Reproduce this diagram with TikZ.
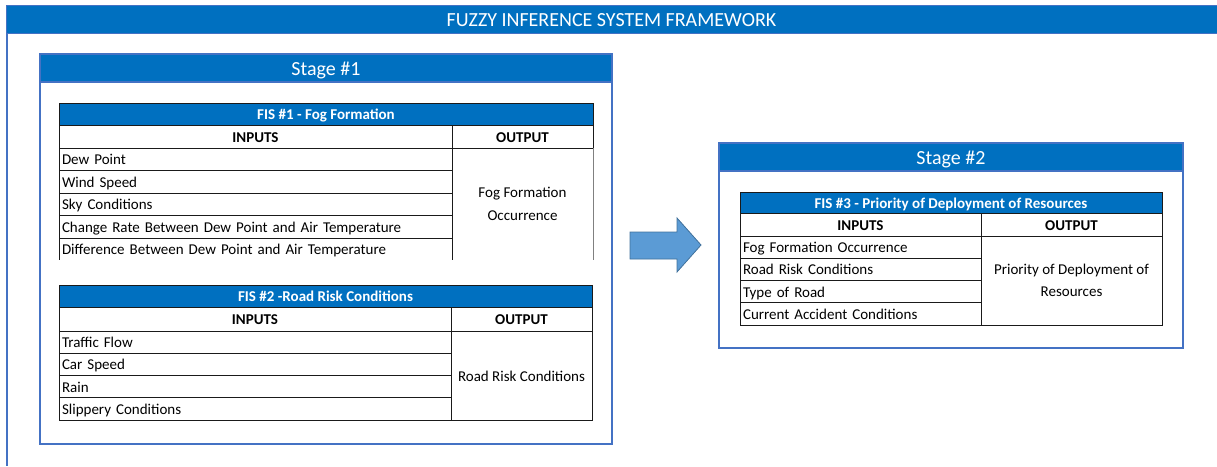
\documentclass[tikz,border=0pt]{standalone}
\usepackage{fontspec}
\setmainfont{Carlito}
\definecolor{hdrblue}{HTML}{0070C0}
\definecolor{frameblue}{HTML}{4472C4}
\definecolor{arrowfill}{HTML}{5B9BD5}
\definecolor{arrowline}{HTML}{41719C}
\definecolor{linec}{HTML}{1A1A1A}
\newcommand{\fsrow}{\fontsize{15}{18.5}\selectfont}
\newcommand{\fsbig}{\fontsize{20}{24}\selectfont}
\begin{document}
\begin{tikzpicture}[x=1pt,y=-1pt,
  box/.style={anchor=north west,inner sep=0pt,outer sep=0pt},
  banner/.style={box,fill=hdrblue,draw=frameblue,line width=1pt,text=white,font=\fsbig,text height=14.5pt,text depth=0.5pt},
  stagebox/.style={box,draw=frameblue,line width=1.5pt,fill=white},
  stagehdr/.style={box,fill=hdrblue,draw=frameblue,line width=1.5pt,text=white,font=\fsbig,text height=14.5pt,text depth=0.5pt},
  fistitle/.style={box,fill=hdrblue,draw=linec,line width=0.9pt,text=white,font=\fsrow\bfseries,text height=11.5pt,text depth=0.5pt},
  colhdr/.style={box,draw=linec,line width=0.9pt,font=\fsrow\bfseries,text height=11.5pt,text depth=0.5pt},
  rowcell/.style={box,draw=linec,line width=0.9pt,font=\fsrow,inner xsep=3pt,align=left,text height=11.5pt,text depth=0.5pt},
  opencell/.style={box,font=\fsrow,inner xsep=3pt,align=left,text height=11.5pt,text depth=0.5pt},
  outcell/.style={box,draw=linec,line width=0.9pt,font=\fsrow,align=center},
  edge/.style={draw=linec,line width=0.9pt},
  bigarrow/.style={fill=arrowfill,draw=arrowline,line width=0.8pt,line join=miter},
  frameline/.style={draw=frameblue,line width=1.2pt}
]
\useasboundingbox (0,0) rectangle (1217,466);

% outer frame
\node[banner,minimum width=1211pt,minimum height=28pt] (top) at (6,5) {FUZZY INFERENCE SYSTEM FRAMEWORK};
\coordinate (framebot) at (7,466);
\draw[frameline] (top.south west) ++(1,0) -- (framebot);

% ---------- Stage 1 ----------
\node[stagebox,minimum width=572pt,minimum height=390pt] (s1) at (40,54) {};
\node[stagehdr,minimum width=572pt,minimum height=28pt] (s1h) at (40,54) {Stage \#1};

% FIS 1
\node[fistitle,minimum width=534pt,minimum height=22pt] (f1t) at (59,103) {FIS \#1 - Fog Formation};
\node[colhdr,minimum width=393pt,minimum height=23pt] (f1in) at (59,125) {INPUTS};
\node[colhdr,minimum width=141pt,minimum height=23pt] (f1out) at (452,125) {OUTPUT};
\node[rowcell,text width=387pt,minimum height=22.5pt] (f1r1) at (59,148) {Dew Point};
\node[rowcell,text width=387pt,minimum height=22.5pt] (f1r2) at (59,170.5) {Wind Speed};
\node[rowcell,text width=387pt,minimum height=22.5pt] (f1r3) at (59,193) {Sky Conditions};
\node[rowcell,text width=387pt,minimum height=22.5pt] (f1r4) at (59,215.5) {Change Rate Between Dew Point and Air Temperature};
\node[opencell,text width=387pt,minimum height=22pt] (f1r5) at (59,238) {Difference Between Dew Point and Air Temperature};
\node[box,font=\fsrow,align=center,minimum width=141pt,minimum height=112pt] (f1o) at (452,148) {Fog Formation\\[4pt]Occurrence};
\draw[edge] (f1r5.north west) -- (f1r5.south west);
\draw[edge] (f1o.north west) -- (f1o.south west);
\draw[edge,draw=gray] (f1o.north east) -- (f1o.south east);

% FIS 2
\node[fistitle,minimum width=533pt,minimum height=22pt] (f2t) at (59,285) {FIS \#2 -Road Risk Conditions};
\node[colhdr,minimum width=392pt,minimum height=24pt] (f2in) at (59,307) {INPUTS};
\node[colhdr,minimum width=141pt,minimum height=24pt] (f2out) at (451,307) {OUTPUT};
\node[rowcell,text width=386pt,minimum height=22.25pt] (f2r1) at (59,331) {Traffic Flow};
\node[rowcell,text width=386pt,minimum height=22.25pt] (f2r2) at (59,353.25) {Car Speed};
\node[rowcell,text width=386pt,minimum height=22.25pt] (f2r3) at (59,375.5) {Rain};
\node[rowcell,text width=386pt,minimum height=22.25pt] (f2r4) at (59,397.75) {Slippery Conditions};
\node[outcell,minimum width=141pt,minimum height=89pt,text height=11.5pt,text depth=0.5pt] (f2o) at (451,331) {Road Risk Conditions};

% ---------- Arrow ----------
\draw[bigarrow] (630,232) -- (677,232) -- (677,218) -- (701,245) -- (677,272) -- (677,259) -- (630,259) -- cycle;

% ---------- Stage 2 ----------
\node[stagebox,minimum width=464pt,minimum height=205pt] (s2) at (719,143) {};
\node[stagehdr,minimum width=464pt,minimum height=28pt] (s2h) at (719,143) {Stage \#2};

% FIS 3
\node[fistitle,minimum width=422pt,minimum height=21pt] (f3t) at (740,192) {FIS \#3 - Priority of Deployment of Resources};
\node[colhdr,minimum width=241pt,minimum height=23pt] (f3in) at (740,213) {INPUTS};
\node[colhdr,minimum width=181pt,minimum height=23pt] (f3out) at (981,213) {OUTPUT};
\node[rowcell,text width=235pt,minimum height=22.25pt] (f3r1) at (740,236) {Fog Formation Occurrence};
\node[rowcell,text width=235pt,minimum height=22.25pt] (f3r2) at (740,258.25) {Road Risk Conditions};
\node[rowcell,text width=235pt,minimum height=22.25pt] (f3r3) at (740,280.5) {Type of Road};
\node[rowcell,text width=235pt,minimum height=22.25pt] (f3r4) at (740,302.75) {Current Accident Conditions};
\node[outcell,minimum width=181pt,minimum height=89pt] (f3o) at (981,236) {Priority of Deployment of\\[4pt]Resources};
\end{tikzpicture}
\end{document}
